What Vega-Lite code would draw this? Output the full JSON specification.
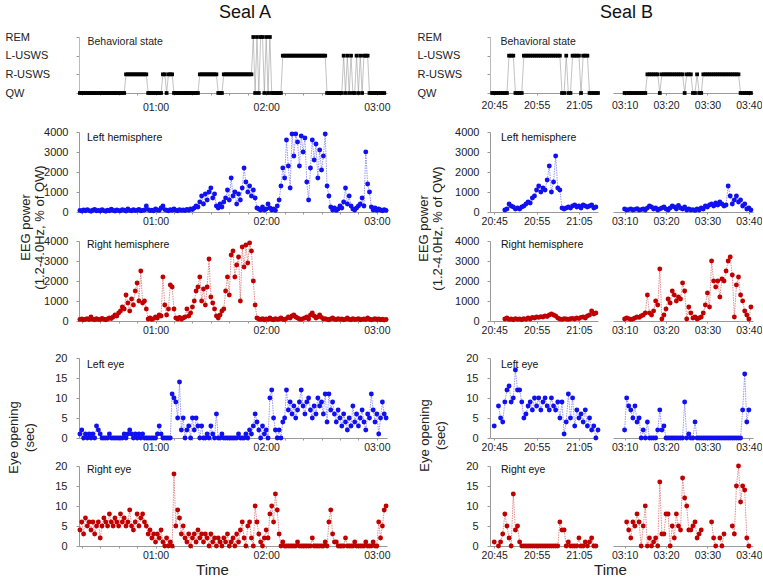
{
"$schema": "https://vega.github.io/schema/vega-lite/v6.json",
"padding": {"left": 5, "top": 3, "right": 0, "bottom": 0},
"background": "white",
"config": {
  "view": {"stroke": null},
  "font": "Liberation Sans",
  "axis": {"grid": false, "domainColor": "#999", "tickColor": "#999", "labelColor": "#222", "labelFontSize": 11, "titleFontSize": 13, "titleFontWeight": "normal", "titleColor": "#222", "labelFlush": false, "labelOverlap": false},
  "title": {"fontWeight": "normal", "color": "#111"}
},
"datasets": {
"a": [
{"t":19,"s":0,"l":80,"r":80,"le":1,"re":4},{"t":20,"s":0,"l":50,"r":100,"le":2,"re":6},{"t":21,"s":0,"l":100,"r":60,"le":0,"re":3},{"t":22,"s":0,"l":60,"r":90,"le":1,"re":7},{"t":23,"s":0,"l":120,"r":120,"le":0,"re":5},{"t":24,"s":0,"l":70,"r":70,"le":1,"re":6},{"t":25,"s":0,"l":40,"r":200,"le":0,"re":4},{"t":26,"s":0,"l":90,"r":90,"le":1,"re":6},{"t":27,"s":0,"l":130,"r":60,"le":0,"re":3},{"t":28,"s":0,"l":60,"r":110,"le":3,"re":5},
{"t":29,"s":0,"l":80,"r":80,"le":2,"re":6},{"t":30,"s":0,"l":50,"r":70,"le":1,"re":2},{"t":31,"s":0,"l":110,"r":130,"le":0,"re":5},{"t":32,"s":0,"l":70,"r":90,"le":0,"re":7},{"t":33,"s":0,"l":40,"r":60,"le":0,"re":6},{"t":34,"s":0,"l":90,"r":100,"le":0,"re":5},{"t":35,"s":0,"l":60,"r":150,"le":1,"re":8},{"t":36,"s":0,"l":140,"r":120,"le":0,"re":6},{"t":37,"s":0,"l":80,"r":200,"le":0,"re":5},{"t":38,"s":0,"l":50,"r":300,"le":0,"re":7},
{"t":39,"s":0,"l":100,"r":250,"le":0,"re":6},{"t":40,"s":0,"l":70,"r":400,"le":0,"re":5},{"t":41,"s":0,"l":60,"r":500,"le":0,"re":8},{"t":42,"s":0,"l":120,"r":700,"le":0,"re":6},{"t":43,"s":0,"l":90,"r":600,"le":1,"re":7},{"t":44,"s":1,"l":50,"r":1300,"le":0,"re":5},{"t":45,"s":1,"l":150,"r":900,"le":1,"re":6},{"t":46,"s":1,"l":80,"r":500,"le":2,"re":9},{"t":47,"s":1,"l":60,"r":1100,"le":1,"re":5},{"t":48,"s":1,"l":110,"r":800,"le":0,"re":4},
{"t":49,"s":1,"l":70,"r":1500,"le":1,"re":6},{"t":50,"s":1,"l":90,"r":1900,"le":0,"re":8},{"t":51,"s":1,"l":130,"r":1000,"le":1,"re":5},{"t":52,"s":1,"l":60,"r":2500,"le":0,"re":7},{"t":53,"s":1,"l":80,"r":900,"le":1,"re":8},{"t":54,"s":1,"l":100,"r":1000,"le":0,"re":6},{"t":55,"s":1,"l":300,"r":600,"le":0,"re":5},{"t":56,"s":0,"l":120,"r":100,"le":0,"re":3},{"t":57,"s":0,"l":70,"r":150,"le":0,"re":4},{"t":58,"s":0,"l":90,"r":80,"le":0,"re":2},
{"t":59,"s":0,"l":60,"r":120,"le":0,"re":3},{"t":60,"s":0,"l":150,"r":200,"le":0,"re":1},{"t":61,"s":0,"l":100,"r":150,"le":1,"re":3},{"t":62,"s":0,"l":80,"r":300,"le":3,"re":2},{"t":63,"s":0,"l":200,"r":250,"le":1,"re":4},{"t":64,"s":1,"l":300,"r":2200,"le":0,"re":1},{"t":65,"s":1,"l":120,"r":800,"le":0,"re":0},{"t":66,"s":0,"l":90,"r":300,"le":0,"re":2},{"t":67,"s":1,"l":60,"r":600,"le":0,"re":0},{"t":68,"s":1,"l":110,"r":1800,"le":0,"re":1},
{"t":69,"s":1,"l":80,"r":1700,"le":11,"re":0},{"t":70,"s":0,"l":150,"r":600,"le":10,"re":18},{"t":71,"s":0,"l":90,"r":150,"le":9,"re":5},{"t":72,"s":0,"l":60,"r":100,"le":5,"re":9},{"t":73,"s":0,"l":120,"r":180,"le":14,"re":7},{"t":74,"s":0,"l":80,"r":90,"le":2,"re":3},{"t":75,"s":0,"l":100,"r":150,"le":5,"re":5},{"t":76,"s":0,"l":70,"r":200,"le":0,"re":2},{"t":77,"s":0,"l":130,"r":600,"le":2,"re":1},{"t":78,"s":0,"l":90,"r":250,"le":3,"re":3},
{"t":79,"s":0,"l":150,"r":400,"le":0,"re":0},{"t":80,"s":0,"l":120,"r":700,"le":5,"re":2},{"t":81,"s":0,"l":200,"r":1000,"le":2,"re":3},{"t":82,"s":0,"l":300,"r":1500,"le":5,"re":1},{"t":83,"s":0,"l":250,"r":1700,"le":3,"re":4},{"t":84,"s":1,"l":500,"r":2200,"le":0,"re":2},{"t":85,"s":1,"l":800,"r":1000,"le":3,"re":3},{"t":86,"s":1,"l":400,"r":1600,"le":0,"re":1},{"t":87,"s":1,"l":900,"r":800,"le":0,"re":3},{"t":88,"s":1,"l":600,"r":1700,"le":1,"re":2},
{"t":89,"s":1,"l":1000,"r":3100,"le":0,"re":0},{"t":90,"s":1,"l":1200,"r":1200,"le":3,"re":3},{"t":91,"s":1,"l":700,"r":900,"le":1,"re":1},{"t":92,"s":1,"l":900,"r":600,"le":0,"re":2},{"t":93,"s":1,"l":300,"r":250,"le":6,"re":0},{"t":94,"s":0,"l":200,"r":150,"le":0,"re":2},{"t":95,"s":0,"l":400,"r":300,"le":0,"re":1},{"t":96,"s":0,"l":250,"r":500,"le":1,"re":0},{"t":97,"s":1,"l":500,"r":600,"le":0,"re":2},{"t":98,"s":1,"l":700,"r":1500,"le":0,"re":1},
{"t":99,"s":1,"l":1100,"r":2200,"le":0,"re":3},{"t":100,"s":1,"l":600,"r":1300,"le":0,"re":0},{"t":101,"s":1,"l":1700,"r":3300,"le":0,"re":1},{"t":102,"s":1,"l":800,"r":3500,"le":0,"re":2},{"t":103,"s":1,"l":1000,"r":2200,"le":0,"re":0},{"t":104,"s":1,"l":400,"r":2800,"le":0,"re":3},{"t":105,"s":1,"l":900,"r":3200,"le":1,"re":1},{"t":106,"s":1,"l":600,"r":1000,"le":0,"re":4},{"t":107,"s":1,"l":1200,"r":3700,"le":0,"re":6},{"t":108,"s":1,"l":2200,"r":2700,"le":0,"re":2},
{"t":109,"s":1,"l":1500,"r":3800,"le":1,"re":0},{"t":110,"s":1,"l":1000,"r":2900,"le":0,"re":5},{"t":111,"s":1,"l":1300,"r":3900,"le":2,"re":6},{"t":112,"s":1,"l":800,"r":3500,"le":1,"re":2},{"t":113,"s":3,"l":1100,"r":2000,"le":3,"re":0},{"t":114,"s":0,"l":700,"r":800,"le":6,"re":10},{"t":115,"s":3,"l":200,"r":150,"le":4,"re":6},{"t":116,"s":0,"l":150,"r":100,"le":2,"re":3},{"t":117,"s":3,"l":100,"r":80,"le":0,"re":1},{"t":118,"s":3,"l":250,"r":120,"le":3,"re":0},
{"t":119,"s":0,"l":100,"r":60,"le":1,"re":2},{"t":120,"s":3,"l":150,"r":100,"le":2,"re":4},{"t":121,"s":0,"l":400,"r":80,"le":0,"re":2},{"t":122,"s":3,"l":200,"r":150,"le":10,"re":8},{"t":123,"s":0,"l":100,"r":90,"le":12,"re":10},{"t":124,"s":0,"l":150,"r":60,"le":5,"re":6},{"t":125,"s":0,"l":80,"r":110,"le":2,"re":13},{"t":126,"s":0,"l":300,"r":80,"le":0,"re":9},{"t":127,"s":0,"l":600,"r":100,"le":2,"re":3},{"t":128,"s":0,"l":1300,"r":150,"le":0,"re":0},
{"t":129,"s":2,"l":2200,"r":90,"le":4,"re":1},{"t":130,"s":2,"l":1700,"r":70,"le":5,"re":0},{"t":131,"s":2,"l":3600,"r":120,"le":12,"re":0},{"t":132,"s":2,"l":2300,"r":200,"le":7,"re":0},{"t":133,"s":2,"l":1200,"r":150,"le":9,"re":0},{"t":134,"s":2,"l":3900,"r":250,"le":6,"re":0},{"t":135,"s":2,"l":2800,"r":300,"le":8,"re":0},{"t":136,"s":2,"l":3900,"r":200,"le":5,"re":0},{"t":137,"s":2,"l":3500,"r":150,"le":7,"re":1},{"t":138,"s":2,"l":2300,"r":100,"le":9,"re":0},
{"t":139,"s":2,"l":3800,"r":80,"le":12,"re":0},{"t":140,"s":2,"l":3000,"r":120,"le":8,"re":0},{"t":141,"s":2,"l":3700,"r":150,"le":6,"re":0},{"t":142,"s":2,"l":1500,"r":200,"le":9,"re":0},{"t":143,"s":2,"l":600,"r":100,"le":10,"re":0},{"t":144,"s":2,"l":2200,"r":300,"le":7,"re":0},{"t":145,"s":2,"l":3600,"r":400,"le":5,"re":2},{"t":146,"s":2,"l":2600,"r":250,"le":8,"re":0},{"t":147,"s":2,"l":3400,"r":150,"le":6,"re":0},{"t":148,"s":2,"l":1700,"r":200,"le":10,"re":0},
{"t":149,"s":2,"l":3100,"r":300,"le":8,"re":0},{"t":150,"s":2,"l":2100,"r":180,"le":9,"re":0},{"t":151,"s":2,"l":2800,"r":100,"le":6,"re":0},{"t":152,"s":2,"l":3900,"r":120,"le":11,"re":1},{"t":153,"s":0,"l":1300,"r":80,"le":4,"re":0},{"t":154,"s":0,"l":800,"r":60,"le":11,"re":6},{"t":155,"s":0,"l":250,"r":100,"le":7,"re":9},{"t":156,"s":0,"l":100,"r":150,"le":9,"re":3},{"t":157,"s":0,"l":200,"r":90,"le":6,"re":1},{"t":158,"s":0,"l":80,"r":70,"le":4,"re":1},
{"t":159,"s":0,"l":150,"r":120,"le":7,"re":0},{"t":160,"s":0,"l":300,"r":80,"le":5,"re":0},{"t":161,"s":0,"l":200,"r":100,"le":3,"re":0},{"t":162,"s":2,"l":500,"r":60,"le":6,"re":0},{"t":163,"s":0,"l":1200,"r":90,"le":4,"re":2},{"t":164,"s":2,"l":400,"r":150,"le":2,"re":0},{"t":165,"s":0,"l":800,"r":80,"le":5,"re":0},{"t":166,"s":2,"l":300,"r":60,"le":3,"re":0},{"t":167,"s":0,"l":150,"r":110,"le":8,"re":0},{"t":168,"s":0,"l":100,"r":70,"le":4,"re":1},
{"t":169,"s":2,"l":200,"r":90,"le":6,"re":0},{"t":170,"s":0,"l":300,"r":120,"le":3,"re":0},{"t":171,"s":2,"l":400,"r":60,"le":5,"re":0},{"t":172,"s":0,"l":700,"r":80,"le":7,"re":0},{"t":173,"s":2,"l":300,"r":100,"le":4,"re":0},{"t":174,"s":2,"l":3000,"r":70,"le":2,"re":1},{"t":175,"s":2,"l":1400,"r":150,"le":6,"re":0},{"t":176,"s":0,"l":1000,"r":90,"le":5,"re":0},{"t":177,"s":0,"l":250,"r":60,"le":11,"re":0},{"t":178,"s":0,"l":100,"r":80,"le":7,"re":1},
{"t":179,"s":0,"l":200,"r":120,"le":4,"re":0},{"t":180,"s":0,"l":80,"r":70,"le":6,"re":0},{"t":181,"s":0,"l":150,"r":100,"le":1,"re":6},{"t":182,"s":0,"l":100,"r":60,"le":5,"re":2},{"t":183,"s":0,"l":60,"r":90,"le":9,"re":5},{"t":184,"s":0,"l":120,"r":50,"le":6,"re":9},{"t":185,"s":null,"l":80,"r":80,"le":5,"re":10}
],
"b1": [
{"t":1244.5,"s":0,"l":null,"r":null,"le":null,"re":null},{"t":1245,"s":0,"l":null,"r":null,"le":3,"re":1},{"t":1245.5,"s":0,"l":null,"r":null,"le":null,"re":null},{"t":1246,"s":0,"l":null,"r":null,"le":8,"re":0},{"t":1246.5,"s":0,"l":null,"r":null,"le":5,"re":1},{"t":1247,"s":0,"l":null,"r":null,"le":4,"re":3},{"t":1247.5,"s":0,"l":100,"r":100,"le":9,"re":8},{"t":1248,"s":0,"l":150,"r":150,"le":12,"re":5},{"t":1248.5,"s":2,"l":400,"r":80,"le":13,"re":2},{"t":1249,"s":2,"l":300,"r":100,"le":9,"re":0},
{"t":1249.5,"s":2,"l":250,"r":60,"le":10,"re":13},{"t":1250,"s":0,"l":150,"r":120,"le":17,"re":4},{"t":1250.5,"s":0,"l":200,"r":80,"le":12,"re":5},{"t":1251,"s":0,"l":150,"r":100,"le":12,"re":1},{"t":1251.5,"s":0,"l":250,"r":60,"le":9,"re":0},{"t":1252,"s":2,"l":300,"r":120,"le":5,"re":0},{"t":1252.5,"s":2,"l":400,"r":90,"le":6,"re":0},{"t":1253,"s":2,"l":500,"r":150,"le":8,"re":0},{"t":1253.5,"s":2,"l":450,"r":100,"le":9,"re":0},{"t":1254,"s":2,"l":700,"r":180,"le":7,"re":0},
{"t":1254.5,"s":2,"l":800,"r":150,"le":10,"re":0},{"t":1255,"s":2,"l":1100,"r":200,"le":8,"re":0},{"t":1255.5,"s":2,"l":1300,"r":180,"le":10,"re":0},{"t":1256,"s":2,"l":1000,"r":220,"le":7,"re":0},{"t":1256.5,"s":2,"l":1200,"r":200,"le":9,"re":0},{"t":1257,"s":2,"l":1100,"r":250,"le":10,"re":0},{"t":1257.5,"s":2,"l":1600,"r":220,"le":8,"re":0},{"t":1258,"s":2,"l":2300,"r":300,"le":7,"re":0},{"t":1258.5,"s":2,"l":1000,"r":350,"le":10,"re":0},{"t":1259,"s":2,"l":1500,"r":300,"le":8,"re":0},
{"t":1259.5,"s":2,"l":2800,"r":250,"le":7,"re":0},{"t":1260,"s":2,"l":1200,"r":150,"le":9,"re":0},{"t":1260.5,"s":2,"l":1100,"r":100,"le":5,"re":6},{"t":1261,"s":0,"l":200,"r":80,"le":9,"re":4},{"t":1261.5,"s":0,"l":150,"r":120,"le":1,"re":4},{"t":1262,"s":2,"l":200,"r":100,"le":4,"re":0},{"t":1262.5,"s":0,"l":250,"r":80,"le":11,"re":1},{"t":1263,"s":0,"l":200,"r":110,"le":5,"re":0},{"t":1263.5,"s":2,"l":300,"r":130,"le":10,"re":0},{"t":1264,"s":2,"l":350,"r":100,"le":3,"re":0},
{"t":1264.5,"s":2,"l":250,"r":150,"le":7,"re":0},{"t":1265,"s":2,"l":300,"r":120,"le":5,"re":2},{"t":1265.5,"s":0,"l":200,"r":180,"le":6,"re":0},{"t":1266,"s":2,"l":350,"r":200,"le":4,"re":0},{"t":1266.5,"s":2,"l":300,"r":150,"le":7,"re":1},{"t":1267,"s":2,"l":250,"r":250,"le":3,"re":0},{"t":1267.5,"s":0,"l":300,"r":300,"le":5,"re":1},{"t":1268,"s":0,"l":350,"r":500,"le":2,"re":2},{"t":1268.5,"s":0,"l":200,"r":350,"le":3,"re":0},{"t":1269,"s":0,"l":250,"r":400,"le":0,"re":0},
{"t":1269.5,"s":0,"l":null,"r":null,"le":2,"re":null}
],
"b2": [
{"t":190,"s":0,"l":150,"r":100,"le":2,"re":null},{"t":190.5,"s":0,"l":100,"r":150,"le":10,"re":6},{"t":191,"s":0,"l":120,"r":120,"le":8,"re":4},{"t":191.5,"s":0,"l":150,"r":80,"le":7,"re":2},{"t":192,"s":0,"l":100,"r":100,"le":5,"re":6},{"t":192.5,"s":0,"l":130,"r":150,"le":8,"re":5},{"t":193,"s":0,"l":160,"r":200,"le":4,"re":8},{"t":193.5,"s":0,"l":100,"r":180,"le":5,"re":6},{"t":194,"s":0,"l":120,"r":250,"le":0,"re":0},{"t":194.5,"s":0,"l":150,"r":300,"le":2,"re":5},
{"t":195,"s":0,"l":100,"r":400,"le":0,"re":10},{"t":195.5,"s":1,"l":200,"r":1300,"le":4,"re":0},{"t":196,"s":1,"l":300,"r":400,"le":0,"re":2},{"t":196.5,"s":1,"l":250,"r":300,"le":0,"re":0},{"t":197,"s":1,"l":150,"r":500,"le":0,"re":1},{"t":197.5,"s":1,"l":200,"r":1000,"le":0,"re":2},{"t":198,"s":1,"l":100,"r":800,"le":2,"re":0},{"t":198.5,"s":0,"l":150,"r":2600,"le":7,"re":16},{"t":199,"s":1,"l":200,"r":100,"le":2,"re":3},{"t":199.5,"s":1,"l":250,"r":300,"le":3,"re":3},
{"t":200,"s":1,"l":150,"r":600,"le":0,"re":8},{"t":200.5,"s":1,"l":100,"r":1100,"le":0,"re":8},{"t":201,"s":1,"l":200,"r":900,"le":0,"re":0},{"t":201.5,"s":1,"l":300,"r":1500,"le":0,"re":5},{"t":202,"s":1,"l":250,"r":1300,"le":0,"re":2},{"t":202.5,"s":1,"l":150,"r":1000,"le":0,"re":8},{"t":203,"s":1,"l":330,"r":1200,"le":0,"re":5},{"t":203.5,"s":1,"l":200,"r":1100,"le":0,"re":4},{"t":204,"s":1,"l":150,"r":1900,"le":0,"re":17},{"t":204.5,"s":0,"l":250,"r":1500,"le":9,"re":12},
{"t":205,"s":1,"l":100,"r":100,"le":0,"re":10},{"t":205.5,"s":1,"l":150,"r":700,"le":1,"re":4},{"t":206,"s":1,"l":100,"r":400,"le":0,"re":4},{"t":206.5,"s":0,"l":120,"r":150,"le":0,"re":5},{"t":207,"s":0,"l":80,"r":200,"le":4,"re":6},{"t":207.5,"s":1,"l":150,"r":100,"le":0,"re":2},{"t":208,"s":0,"l":100,"r":150,"le":0,"re":3},{"t":208.5,"s":0,"l":200,"r":200,"le":0,"re":4},{"t":209,"s":1,"l":150,"r":400,"le":0,"re":null},{"t":209.5,"s":1,"l":300,"r":800,"le":0,"re":null},
{"t":210,"s":1,"l":250,"r":1400,"le":0,"re":null},{"t":210.5,"s":1,"l":350,"r":700,"le":0,"re":null},{"t":211,"s":1,"l":400,"r":3000,"le":0,"re":6},{"t":211.5,"s":1,"l":300,"r":2000,"le":0,"re":2},{"t":212,"s":1,"l":450,"r":1700,"le":0,"re":0},{"t":212.5,"s":1,"l":350,"r":2000,"le":0,"re":null},{"t":213,"s":1,"l":500,"r":1200,"le":0,"re":2},{"t":213.5,"s":1,"l":400,"r":2100,"le":0,"re":0},{"t":214,"s":1,"l":300,"r":2000,"le":0,"re":3},{"t":214.5,"s":1,"l":350,"r":2500,"le":0,"re":null},
{"t":215,"s":1,"l":1300,"r":3000,"le":0,"re":null},{"t":215.5,"s":1,"l":800,"r":3200,"le":0,"re":null},{"t":216,"s":1,"l":400,"r":2300,"le":0,"re":5},{"t":216.5,"s":1,"l":600,"r":200,"le":0,"re":3},{"t":217,"s":1,"l":800,"r":1800,"le":0,"re":15},{"t":217.5,"s":1,"l":500,"r":2200,"le":0,"re":20},{"t":218,"s":0,"l":600,"r":1300,"le":0,"re":11},{"t":218.5,"s":0,"l":300,"r":1000,"le":7,"re":15},{"t":219,"s":0,"l":400,"r":500,"le":16,"re":14},{"t":219.5,"s":0,"l":150,"r":300,"le":4,"re":2},
{"t":220,"s":0,"l":200,"r":100,"le":7,"re":0},{"t":220.5,"s":0,"l":100,"r":700,"le":null,"re":null}
]
},
"columns": 3,
"spacing": {"row": 28, "column": 15},
"bounds": "flush",
"align": "each",
"concat": [
{"width":396,"height":56,"data":{"name":"a"},
 "title":{"text":"Seal A","anchor":"middle","frame":"group","dx":-32,"offset":-4.5,"baseline":"alphabetic","fontSize":18},
 "encoding":{"x":{"field":"t","type":"quantitative","scale":{"domain":[18.5,185.5],"range":[0,308],"nice":false,"zero":false},"axis":{"values":[20,30,40,50,60,70,80,90,100,110,120,130,140,150,160,170,180],"labelExpr":"datum.value % 60 == 0 ? '0' + (datum.value/60) + ':00' : ''","title":null,"tickSize":2,"labelPadding":7,"labelFontSize":10.5}},
  "y":{"field":"s","type":"quantitative","scale":{"domain":[0,3],"nice":false,"zero":false},"axis":{"values":[0,1,2,3],"labelExpr":"['QW','R-USWS','L-USWS','REM'][datum.value]","labelAlign":"left","labelPadding":71,"tickSize":3,"domainColor":"#bbb","title":"Behavioral state","titleAngle":0,"titleAlign":"left","titleBaseline":"alphabetic","titleX":8,"titleY":7,"titleFontSize":10.5}}},
 "layer":[{"mark":{"type":"line","color":"#9a9a9a","strokeWidth":0.6}},{"mark":{"type":"point","shape":"square","filled":true,"color":"#000","size":14,"opacity":1}}]},
{"width":108,"height":56,"data":{"name":"b1"},
 "title":{"text":"Seal B","anchor":"start","frame":"group","dx":110,"offset":-4.5,"baseline":"alphabetic","fontSize":18},
 "encoding":{"x":{"field":"t","type":"quantitative","scale":{"domain":[1244,1269.5],"nice":false,"zero":false},"axis":{"values":[1245,1255,1265],"labelExpr":"(floor(datum.value/60) < 10 ? '0' : '') + floor(datum.value/60) + ':' + (datum.value % 60 < 10 ? '0' : '') + (datum.value % 60)","title":null,"tickSize":2,"labelPadding":5,"labelFontSize":10.5}},
  "y":{"field":"s","type":"quantitative","scale":{"domain":[0,3],"nice":false,"zero":false},"axis":{"values":[0,1,2,3],"labelExpr":"['QW','R-USWS','L-USWS','REM'][datum.value]","labelAlign":"left","labelPadding":70,"tickSize":3,"domainColor":"#bbb","title":"Behavioral state","titleAngle":0,"titleAlign":"left","titleBaseline":"alphabetic","titleX":10,"titleY":7,"titleFontSize":10.5}}},
 "layer":[{"mark":{"type":"line","color":"#9a9a9a","strokeWidth":0.6}},{"mark":{"type":"point","shape":"square","filled":true,"color":"#000","size":14,"opacity":1}}]},
{"width":140,"height":56,"data":{"name":"b2"},
 "encoding":{"x":{"field":"t","type":"quantitative","scale":{"domain":[187.2,221],"nice":false,"zero":false},"axis":{"values":[190,200,210,220],"labelExpr":"(floor(datum.value/60) < 10 ? '0' : '') + floor(datum.value/60) + ':' + (datum.value % 60 < 10 ? '0' : '') + (datum.value % 60)","title":null,"tickSize":2,"labelPadding":5,"labelFontSize":10.5}},
  "y":{"field":"s","type":"quantitative","scale":{"domain":[0,3],"nice":false,"zero":false},"axis":null}},
 "layer":[{"mark":{"type":"line","color":"#9a9a9a","strokeWidth":0.6}},{"mark":{"type":"point","shape":"square","filled":true,"color":"#000","size":14,"opacity":1}}]},

{"width":396,"height":91,"data":{"name":"a"},
 "title":{"text":"Left hemisphere","anchor":"start","frame":"group","dx":8,"offset":-30,"baseline":"alphabetic","fontSize":10.5},
 "encoding":{"x":{"field":"t","type":"quantitative","scale":{"domain":[18.5,185.5],"range":[0,308],"nice":false,"zero":false},"axis":{"values":[20,30,40,50,60,70,80,90,100,110,120,130,140,150,160,170,180],"labelExpr":"datum.value % 60 == 0 ? '0' + (datum.value/60) + ':00' : ''","title":null,"tickSize":2,"labelPadding":2,"labelFontSize":10.5}},
  "y":{"field":"l","type":"quantitative","scale":{"domain":[0,4000],"range":[91,11],"nice":false},"axis":{"values":[0,1000,2000,3000,4000],"format":"d","tickSize":3,"labelPadding":8,"title":["EEG power","(1.2-4.0Hz, % of QW)"],"titleAngle":-90,"titleAlign":"center","titleBaseline":"bottom","titleX":-47,"titleY":106,"titleLineHeight":14}}},
 "layer":[{"mark":{"type":"line","color":"#7b7bf7","strokeWidth":0.8,"strokeDash":[1.5,1]}},{"mark":{"type":"point","filled":true,"color":"#1010f0","size":24,"opacity":1}}]},
{"width":108,"height":91,"data":{"name":"b1"},
 "title":{"text":"Left hemisphere","anchor":"start","frame":"group","dx":11,"offset":-30,"baseline":"alphabetic","fontSize":10.5},
 "encoding":{"x":{"field":"t","type":"quantitative","scale":{"domain":[1244,1269.5],"nice":false,"zero":false},"axis":{"values":[1245,1255,1265],"labelExpr":"(floor(datum.value/60) < 10 ? '0' : '') + floor(datum.value/60) + ':' + (datum.value % 60 < 10 ? '0' : '') + (datum.value % 60)","title":null,"tickSize":2,"labelPadding":2,"labelFontSize":10.5}},
  "y":{"field":"l","type":"quantitative","scale":{"domain":[0,4000],"range":[91,11],"nice":false},"axis":{"values":[0,1000,2000,3000,4000],"format":"d","tickSize":3,"labelPadding":8,"title":["EEG power","(1.2-4.0Hz, % of QW)"],"titleAngle":-90,"titleAlign":"center","titleBaseline":"bottom","titleX":-60,"titleY":107,"titleLineHeight":14}}},
 "layer":[{"mark":{"type":"line","color":"#7b7bf7","strokeWidth":0.8,"strokeDash":[1.5,1]}},{"mark":{"type":"point","filled":true,"color":"#1010f0","size":24,"opacity":1}}]},
{"width":140,"height":91,"data":{"name":"b2"},
 "encoding":{"x":{"field":"t","type":"quantitative","scale":{"domain":[187.2,221],"nice":false,"zero":false},"axis":{"values":[190,200,210,220],"labelExpr":"(floor(datum.value/60) < 10 ? '0' : '') + floor(datum.value/60) + ':' + (datum.value % 60 < 10 ? '0' : '') + (datum.value % 60)","title":null,"tickSize":2,"labelPadding":2,"labelFontSize":10.5}},
  "y":{"field":"l","type":"quantitative","scale":{"domain":[0,4000],"range":[91,11],"nice":false},"axis":null}},
 "layer":[{"mark":{"type":"line","color":"#7b7bf7","strokeWidth":0.8,"strokeDash":[1.5,1]}},{"mark":{"type":"point","filled":true,"color":"#1010f0","size":24,"opacity":1}}]},

{"width":396,"height":81,"data":{"name":"a"},
 "title":{"text":"Right hemisphere","anchor":"start","frame":"group","dx":8,"offset":-23.5,"baseline":"alphabetic","fontSize":10.5},
 "encoding":{"x":{"field":"t","type":"quantitative","scale":{"domain":[18.5,185.5],"range":[0,308],"nice":false,"zero":false},"axis":{"values":[20,30,40,50,60,70,80,90,100,110,120,130,140,150,160,170,180],"labelExpr":"datum.value % 60 == 0 ? '0' + (datum.value/60) + ':00' : ''","title":null,"tickSize":2,"labelPadding":2,"labelFontSize":10.5}},
  "y":{"field":"r","type":"quantitative","scale":{"domain":[0,4000],"range":[81,1],"nice":false},"axis":{"values":[0,1000,2000,3000,4000],"format":"d","tickSize":3,"labelPadding":8,"title":null}}},
 "layer":[{"mark":{"type":"line","color":"#d77070","strokeWidth":0.8,"strokeDash":[1.5,1]}},{"mark":{"type":"point","filled":true,"color":"#c00000","size":24,"opacity":1}}]},
{"width":108,"height":81,"data":{"name":"b1"},
 "title":{"text":"Right hemisphere","anchor":"start","frame":"group","dx":11,"offset":-23.5,"baseline":"alphabetic","fontSize":10.5},
 "encoding":{"x":{"field":"t","type":"quantitative","scale":{"domain":[1244,1269.5],"nice":false,"zero":false},"axis":{"values":[1245,1255,1265],"labelExpr":"(floor(datum.value/60) < 10 ? '0' : '') + floor(datum.value/60) + ':' + (datum.value % 60 < 10 ? '0' : '') + (datum.value % 60)","title":null,"tickSize":2,"labelPadding":2,"labelFontSize":10.5}},
  "y":{"field":"r","type":"quantitative","scale":{"domain":[0,4000],"range":[81,1],"nice":false},"axis":{"values":[0,1000,2000,3000,4000],"format":"d","tickSize":3,"labelPadding":8,"title":null}}},
 "layer":[{"mark":{"type":"line","color":"#d77070","strokeWidth":0.8,"strokeDash":[1.5,1]}},{"mark":{"type":"point","filled":true,"color":"#c00000","size":24,"opacity":1}}]},
{"width":140,"height":81,"data":{"name":"b2"},
 "encoding":{"x":{"field":"t","type":"quantitative","scale":{"domain":[187.2,221],"nice":false,"zero":false},"axis":{"values":[190,200,210,220],"labelExpr":"(floor(datum.value/60) < 10 ? '0' : '') + floor(datum.value/60) + ':' + (datum.value % 60 < 10 ? '0' : '') + (datum.value % 60)","title":null,"tickSize":2,"labelPadding":2,"labelFontSize":10.5}},
  "y":{"field":"r","type":"quantitative","scale":{"domain":[0,4000],"range":[81,1],"nice":false},"axis":null}},
 "layer":[{"mark":{"type":"line","color":"#d77070","strokeWidth":0.8,"strokeDash":[1.5,1]}},{"mark":{"type":"point","filled":true,"color":"#c00000","size":24,"opacity":1}}]},

{"width":396,"height":89,"data":{"name":"a"},
 "title":{"text":"Left eye","anchor":"start","frame":"group","dx":8,"offset":-29,"baseline":"alphabetic","fontSize":10.5},
 "encoding":{"x":{"field":"t","type":"quantitative","scale":{"domain":[18.5,185.5],"range":[0,308],"nice":false,"zero":false},"axis":{"values":[20,30,40,50,60,70,80,90,100,110,120,130,140,150,160,170,180],"labelExpr":"datum.value % 60 == 0 ? '0' + (datum.value/60) + ':00' : ''","title":null,"tickSize":2,"labelPadding":2,"labelFontSize":10.5}},
  "y":{"field":"le","type":"quantitative","scale":{"domain":[0,20],"range":[89,9],"nice":false},"axis":{"values":[0,5,10,15,20],"tickSize":3,"labelPadding":9,"title":["Eye opening","(sec)"],"titleAngle":-90,"titleAlign":"center","titleBaseline":"bottom","titleX":-59,"titleY":88,"titleLineHeight":16}}},
 "layer":[{"mark":{"type":"line","color":"#7b7bf7","strokeWidth":0.8,"strokeDash":[1.5,1]}},{"mark":{"type":"point","filled":true,"color":"#1010f0","size":24,"opacity":1}}]},
{"width":108,"height":89,"data":{"name":"b1"},
 "title":{"text":"Left eye","anchor":"start","frame":"group","dx":11,"offset":-29,"baseline":"alphabetic","fontSize":10.5},
 "encoding":{"x":{"field":"t","type":"quantitative","scale":{"domain":[1244,1269.5],"nice":false,"zero":false},"axis":{"values":[1245,1255,1265],"labelExpr":"(floor(datum.value/60) < 10 ? '0' : '') + floor(datum.value/60) + ':' + (datum.value % 60 < 10 ? '0' : '') + (datum.value % 60)","title":null,"tickSize":2,"labelPadding":2,"labelFontSize":10.5}},
  "y":{"field":"le","type":"quantitative","scale":{"domain":[0,20],"range":[89,9],"nice":false},"axis":{"values":[0,5,10,15,20],"tickSize":3,"labelPadding":9,"title":["Eye opening","(sec)"],"titleAngle":-90,"titleAlign":"center","titleBaseline":"bottom","titleX":-59,"titleY":86,"titleLineHeight":16}}},
 "layer":[{"mark":{"type":"line","color":"#7b7bf7","strokeWidth":0.8,"strokeDash":[1.5,1]}},{"mark":{"type":"point","filled":true,"color":"#1010f0","size":24,"opacity":1}}]},
{"width":140,"height":89,"data":{"name":"b2"},
 "encoding":{"x":{"field":"t","type":"quantitative","scale":{"domain":[187.2,221],"nice":false,"zero":false},"axis":{"values":[190,200,210,220],"labelExpr":"(floor(datum.value/60) < 10 ? '0' : '') + floor(datum.value/60) + ':' + (datum.value % 60 < 10 ? '0' : '') + (datum.value % 60)","title":null,"tickSize":2,"labelPadding":2,"labelFontSize":10.5}},
  "y":{"field":"le","type":"quantitative","scale":{"domain":[0,20],"range":[89,9],"nice":false},"axis":null}},
 "layer":[{"mark":{"type":"line","color":"#7b7bf7","strokeWidth":0.8,"strokeDash":[1.5,1]}},{"mark":{"type":"point","filled":true,"color":"#1010f0","size":24,"opacity":1}}]},

{"width":396,"height":80,"data":{"name":"a"},
 "title":{"text":"Right eye","anchor":"start","frame":"group","dx":8,"offset":-23.5,"baseline":"alphabetic","fontSize":10.5},
 "encoding":{"x":{"field":"t","type":"quantitative","scale":{"domain":[18.5,185.5],"range":[0,308],"nice":false,"zero":false},"axis":{"values":[20,30,40,50,60,70,80,90,100,110,120,130,140,150,160,170,180],"labelExpr":"datum.value % 60 == 0 ? '0' + (datum.value/60) + ':00' : ''","tickSize":2,"labelPadding":2,"labelFontSize":10.5,"title":"Time","titleX":133,"titleY":28,"titleBaseline":"alphabetic","titleFontSize":15}},
  "y":{"field":"re","type":"quantitative","scale":{"domain":[0,20],"nice":false},"axis":{"values":[0,5,10,15,20],"tickSize":3,"labelPadding":9,"title":null}}},
 "layer":[{"mark":{"type":"line","color":"#d77070","strokeWidth":0.8,"strokeDash":[1.5,1]}},{"mark":{"type":"point","filled":true,"color":"#c00000","size":24,"opacity":1}}]},
{"width":108,"height":80,"data":{"name":"b1"},
 "title":{"text":"Right eye","anchor":"start","frame":"group","dx":11,"offset":-23.5,"baseline":"alphabetic","fontSize":10.5},
 "encoding":{"x":{"field":"t","type":"quantitative","scale":{"domain":[1244,1269.5],"nice":false,"zero":false},"axis":{"values":[1245,1255,1265],"labelExpr":"(floor(datum.value/60) < 10 ? '0' : '') + floor(datum.value/60) + ':' + (datum.value % 60 < 10 ? '0' : '') + (datum.value % 60)","tickSize":2,"labelPadding":2,"labelFontSize":10.5,"title":"Time","titleX":120,"titleY":28,"titleBaseline":"alphabetic","titleFontSize":15}},
  "y":{"field":"re","type":"quantitative","scale":{"domain":[0,20],"nice":false},"axis":{"values":[0,5,10,15,20],"tickSize":3,"labelPadding":9,"title":null}}},
 "layer":[{"mark":{"type":"line","color":"#d77070","strokeWidth":0.8,"strokeDash":[1.5,1]}},{"mark":{"type":"point","filled":true,"color":"#c00000","size":24,"opacity":1}}]},
{"width":140,"height":80,"data":{"name":"b2"},
 "encoding":{"x":{"field":"t","type":"quantitative","scale":{"domain":[187.2,221],"nice":false,"zero":false},"axis":{"values":[190,200,210,220],"labelExpr":"(floor(datum.value/60) < 10 ? '0' : '') + floor(datum.value/60) + ':' + (datum.value % 60 < 10 ? '0' : '') + (datum.value % 60)","title":null,"tickSize":2,"labelPadding":2,"labelFontSize":10.5}},
  "y":{"field":"re","type":"quantitative","scale":{"domain":[0,20],"nice":false},"axis":null}},
 "layer":[{"mark":{"type":"line","color":"#d77070","strokeWidth":0.8,"strokeDash":[1.5,1]}},{"mark":{"type":"point","filled":true,"color":"#c00000","size":24,"opacity":1}}]}
]
}
